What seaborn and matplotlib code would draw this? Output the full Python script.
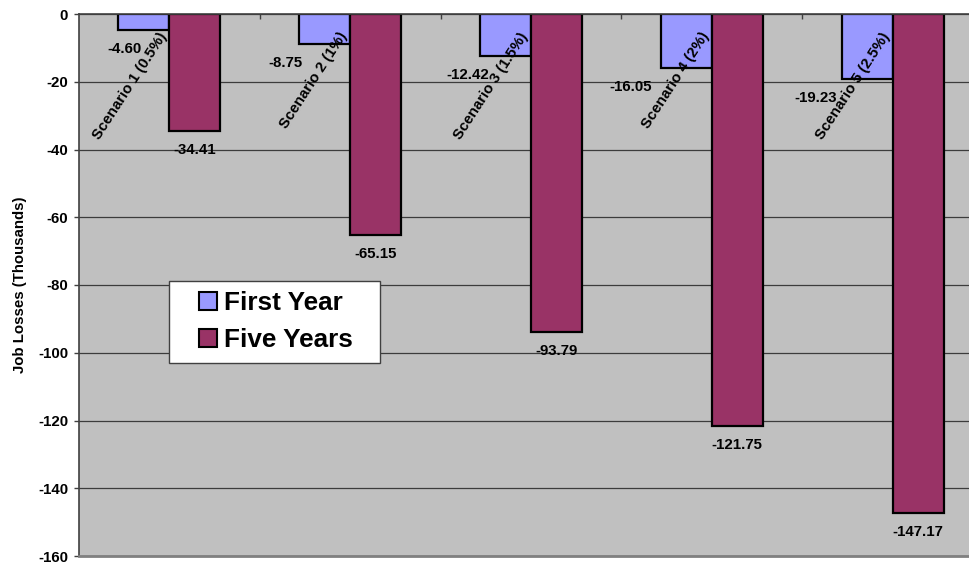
import matplotlib
matplotlib.use("Agg")
import matplotlib.pyplot as plt
from matplotlib.lines import Line2D
import pandas as pd
import seaborn as sns

# Job losses (thousands) under each tax scenario
scenarios = ["Scenario 1 (0.5%)", "Scenario 2 (1%)", "Scenario 3 (1.5%)",
             "Scenario 4 (2%)", "Scenario 5 (2.5%)"]
first_year = [-4.60, -8.75, -12.42, -16.05, -19.23]
five_years = [-34.41, -65.15, -93.79, -121.75, -147.17]
periods = ["First Year", "Five Years"]
y_ticks = [0, -20, -40, -60, -80, -100, -120, -140, -160]

colors = {"First Year": "#9999FF", "Five Years": "#993366"}
# horizontal nudge (pixels) of the value labels so they clear the category text
label_shift_px = {"First Year": [-19, -39, -38, -56, -51],
                  "Five Years": [0, 0, 0, 0, 0]}

df = pd.DataFrame({
    "Scenario": scenarios * 2,
    "Period": [periods[0]] * len(scenarios) + [periods[1]] * len(scenarios),
    "Jobs": first_year + five_years,
})

sns.set_style("white")
plt.rcParams["font.family"] = ["Liberation Sans", "DejaVu Sans"]
plt.rcParams["axes.unicode_minus"] = False
for key in ("text.color", "axes.labelcolor", "xtick.labelcolor", "ytick.labelcolor"):
    plt.rcParams[key] = "black"

W, H = 970, 562
fig = plt.figure(figsize=(W / 100, H / 100), dpi=100)
ax = fig.add_axes([79 / W, 6 / H, 904 / W, 542 / H])
ax.set_facecolor("#C0C0C0")

sns.barplot(data=df, x="Scenario", y="Jobs", hue="Period", order=scenarios,
            hue_order=periods, palette=colors, width=0.564, gap=0,
            saturation=1, edgecolor="black", linewidth=1.6, legend=False, ax=ax)

ax.set_xlim(-0.5, len(scenarios) - 0.5)
ax.set_ylim(-160, 0)
ax.set_axisbelow(True)
ax.yaxis.grid(True, color="#3c3c3c", linewidth=0.9)
ax.xaxis.grid(False)

# category axis sits at zero (the top), names written inside the plot
ax.xaxis.tick_top()
ax.set_xticks(range(len(scenarios)))
ax.set_xticklabels(scenarios, rotation=57, ha="right", va="top",
                   fontsize=10.8, fontweight="bold", color="black")
ax.tick_params(axis="x", which="major", top=True, bottom=False, length=0,
               pad=-11.5, labeltop=True, labelbottom=False)
ax.set_xticks([i + 0.5 for i in range(len(scenarios) - 1)], minor=True)
ax.tick_params(axis="x", which="minor", top=True, bottom=False,
               direction="in", length=3.6, width=1, color="#404040")
ax.set_xlabel("")
ax.xaxis.set_zorder(5)

ax.set_yticks(y_ticks)
ax.set_yticklabels([str(t) for t in y_ticks], fontsize=10.8, fontweight="bold",
                   color="black")
ax.tick_params(axis="y", direction="out", length=3.6, width=1,
               color="#404040", pad=4.3, left=True)
ax.set_ylabel("Job Losses (Thousands)", fontsize=10.8, fontweight="bold",
              color="black")
ax.yaxis.set_label_coords(-0.0575, 0.5)

for side in ("top", "left"):
    ax.spines[side].set_color("#404040")
    ax.spines[side].set_linewidth(1.2)
ax.spines["bottom"].set_color("#808080")
ax.spines["bottom"].set_linewidth(2)
ax.spines["right"].set_visible(False)

# value labels below each bar end
for period, container in zip(periods, ax.containers):
    for bar, dx in zip(container, label_shift_px[period]):
        v = bar.get_y() + bar.get_height()
        xc = bar.get_x() + bar.get_width() / 2
        ax.annotate(f"{v:.2f}", xy=(xc, v), xytext=(dx, -19),
                    textcoords="offset pixels", ha="center", va="center",
                    fontsize=10.8, fontweight="bold", color="black",
                    zorder=6)

handles = [Line2D([], [], marker="s", linestyle="none", markersize=13,
                  markerfacecolor=colors[p], markeredgecolor="black",
                  markeredgewidth=1.5) for p in periods]
leg = ax.legend(handles=handles, labels=periods, loc="upper left",
                bbox_to_anchor=(0.0996, 0.508 - 0.1436, 0.2334, 0.1436),
                mode="expand", borderaxespad=0,
                prop={"size": 18.8, "weight": "bold"},
                handlelength=2.165, handletextpad=-0.45, borderpad=0.4,
                labelspacing=0.5, frameon=True, fancybox=False,
                edgecolor="#404040", facecolor="white", framealpha=1)
leg.get_frame().set_linewidth(1.0)
for t in leg.get_texts():
    t.set_color("black")
leg.set_zorder(7)

fig.savefig("out.png", dpi=100)
